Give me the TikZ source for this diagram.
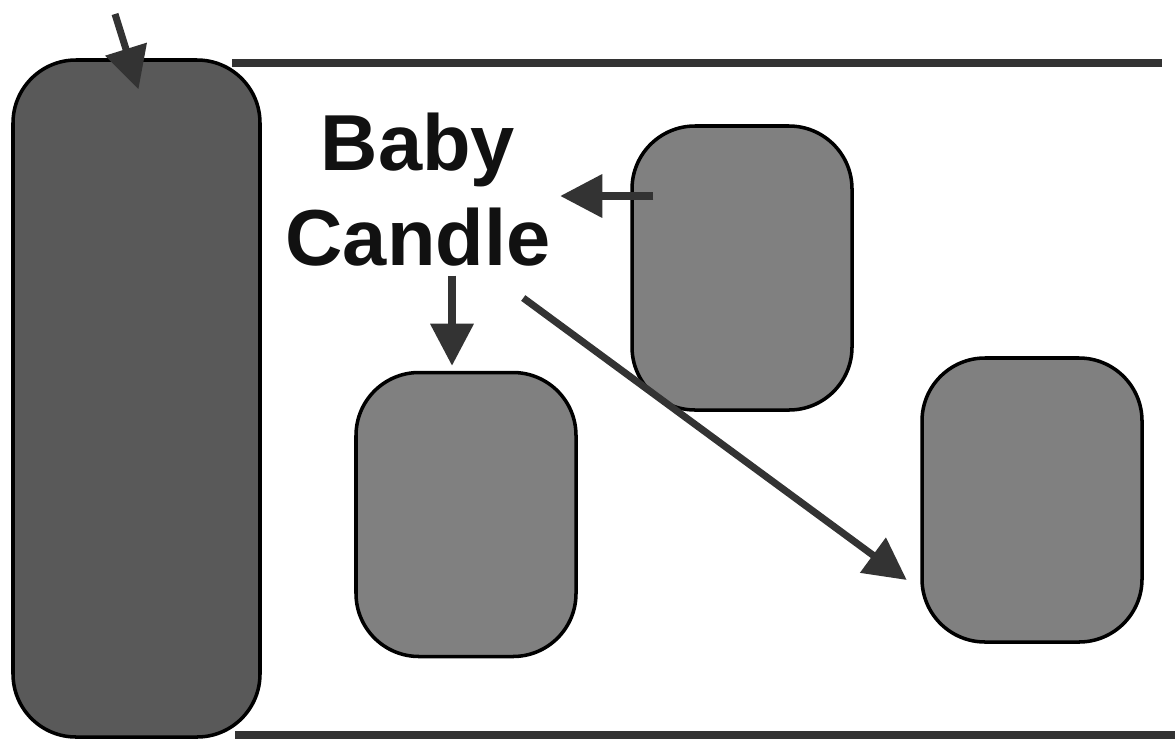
\documentclass[tikz,border=0pt]{standalone}
\usepackage{fontspec}
\setmainfont{Liberation Sans}
\usepackage{tikz}
\usetikzlibrary{arrows.meta,positioning,calc}
\usepackage{xcolor}
\definecolor{cdInk}{HTML}{111111}
\definecolor{cdCharcoal}{HTML}{333333}
\definecolor{cdDark}{HTML}{595959}
\definecolor{cdGray}{HTML}{808080}
\tikzset{
  cnd/.style={draw=black, line width=1pt, rounded corners=0.63cm, inner sep=0pt, fill=cdGray},
  cndS/.style={cnd, minimum width=2.2cm, minimum height=2.84cm},
  cndL/.style={cnd, fill=cdDark, minimum width=2.47cm, minimum height=6.77cm},
  lbl/.style={font=\fontsize{22.6}{27}\selectfont\bfseries, text=cdInk, align=center, inner sep=0pt},
  arr/.style={-{Triangle[length=0.42cm, width=0.42cm]}, line width=2pt, draw=cdCharcoal},
  rule/.style={line width=2.3pt, draw=cdCharcoal},
}
\begin{document}
\begin{tikzpicture}
            \useasboundingbox (0,0) rectangle (11.75,7.38);
            \draw[rule] (2.32,6.75) -- (11.62,6.75);
            \draw[rule] (2.35,0.03) -- (11.75,0.03);
            \node[cndL] (big) at (1.365,3.395) {};
            \node[cndS] (up) at (7.42,4.70) {};
            \node[cndS] (low) at (4.66,2.235) {};
            \node[cndS] (rt) at (10.32,2.38) {};
            \node[lbl, anchor=base] (baby) at (4.18,4.73) {Baby\\Candle};
            \coordinate (pin) at (1.15,7.24);
            \draw[arr] (pin) -- ([shift={(0.02,-0.31)}]big.north);
            \draw[arr] ([shift={(0.23,0.72)}]up.west) -- ([shift={(-0.7,0.72)}]up.west);
            \draw[arr] ([shift={(-0.14,0.95)}]low.north) -- ([shift={(-0.14,0.05)}]low.north);
            \draw[arr] ([shift={(-3.97,2.02)}]rt.west) -- ([shift={(-0.135,-0.8)}]rt.west);
        \end{tikzpicture}
\end{document}
